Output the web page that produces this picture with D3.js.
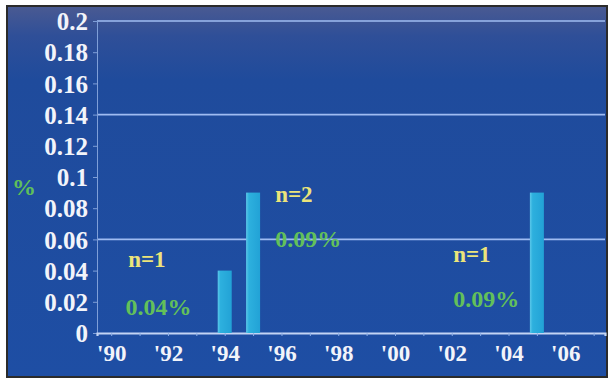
<!DOCTYPE html>
<html>
<head>
<meta charset="utf-8">
<script src="https://cdn.jsdelivr.net/npm/d3@7"></script>
<style>
  html, body { margin: 0; padding: 0; background: #fff; }
  svg { display: block; }
</style>
</head>
<body>
<svg id="chart" width="608" height="379"></svg>
<script>
// values
const years = [1994, 1995, 2005];
const rates = [0.04, 0.09, 0.09];           // %
const counts = ['n=1', 'n=2', 'n=1'];
const pctLabels = ['0.04%', '0.09%', '0.09%'];
const yTicks = [0, 0.02, 0.04, 0.06, 0.08, 0.1, 0.12, 0.14, 0.16, 0.18, 0.2];
const yTickLabels = ['0', '0.02', '0.04', '0.06', '0.08', '0.1', '0.12', '0.14', '0.16', '0.18', '0.2'];
const gridValues = [0.06, 0.14, 0.2];
const xTickYears = [1990, 1992, 1994, 1996, 1998, 2000, 2002, 2004, 2006];
const xTickLabels = ["'90", "'92", "'94", "'96", "'98", "'00", "'02", "'04", "'06"];

const svg = d3.select('#chart');
const fontFamily = '"Liberation Serif", "Times New Roman", serif';

const plot = { left: 97, right: 605, top: 21, bottom: 333 };

const x = d3.scaleLinear().domain([1989.5, 2007.4]).range([plot.left, plot.right]);
const y = d3.scaleLinear().domain([0, 0.2]).range([plot.bottom, plot.top]);

// background panel
const defs = svg.append('defs');
const bg = defs.append('linearGradient').attr('id', 'bg').attr('x1', 0).attr('y1', 0).attr('x2', 0).attr('y2', 1);
bg.append('stop').attr('offset', '0%').attr('stop-color', '#4a5a92');
bg.append('stop').attr('offset', '8%').attr('stop-color', '#2f4f98');
bg.append('stop').attr('offset', '20%').attr('stop-color', '#1f4b9c');
bg.append('stop').attr('offset', '100%').attr('stop-color', '#1e4ea4');

const barGrad = defs.append('linearGradient').attr('id', 'bar').attr('x1', 0).attr('y1', 0).attr('x2', 1).attr('y2', 0);
barGrad.append('stop').attr('offset', '0%').attr('stop-color', '#5cc8ea');
barGrad.append('stop').attr('offset', '20%').attr('stop-color', '#2db0de');
barGrad.append('stop').attr('offset', '100%').attr('stop-color', '#22a2d6');

svg.append('rect')
  .attr('x', 7).attr('y', 6).attr('width', 600).attr('height', 371)
  .attr('fill', 'url(#bg)')
  .attr('stroke', '#2b2b2b').attr('stroke-width', 2);

// horizontal grid lines
svg.append('g').selectAll('line')
  .data(gridValues)
  .join('line')
  .attr('x1', plot.left).attr('x2', plot.right)
  .attr('y1', d => y(d)).attr('y2', d => y(d))
  .attr('stroke', '#9fbcf2').attr('stroke-width', 1.6);

// y axis
const yAxis = d3.axisLeft(y)
  .tickValues(yTicks)
  .tickFormat((d, i) => yTickLabels[i])
  .tickSize(4)
  .tickPadding(5);

const yG = svg.append('g')
  .attr('transform', `translate(${plot.left},0)`)
  .call(yAxis);
yG.select('.domain').attr('stroke', '#7f9fd8').attr('stroke-width', 1);
yG.selectAll('.tick line').attr('stroke', '#7f9fd8');
yG.selectAll('.tick text')
  .attr('fill', '#f2f4fa')
  .attr('font-family', fontFamily)
  .attr('font-weight', 'bold')
  .attr('font-size', 25)
  .attr('dy', '0.35em');

// x axis
const xAxis = d3.axisBottom(x)
  .tickValues(d3.range(1990, 2008))
  .tickFormat(d => {
    const i = xTickYears.indexOf(d);
    return i >= 0 ? xTickLabels[i] : '';
  })
  .tickSize(3)
  .tickPadding(8);

const xG = svg.append('g')
  .attr('transform', `translate(0,${plot.bottom})`)
  .call(xAxis);
xG.select('.domain').attr('stroke', '#c3d4f4').attr('stroke-width', 2.2);
xG.selectAll('.tick line').attr('stroke', '#8fb0e8');
xG.selectAll('.tick text')
  .attr('fill', '#f2f4fa')
  .attr('font-family', fontFamily)
  .attr('font-weight', 'bold')
  .attr('font-size', 23)
  .attr('dy', '0.72em');

// y axis title
svg.append('text')
  .attr('x', 12).attr('y', 195)
  .attr('fill', '#5fbf5a')
  .attr('font-family', fontFamily)
  .attr('font-weight', 'bold')
  .attr('font-size', 24)
  .text('%');

// bars
const barW = 14;
svg.append('g').selectAll('rect')
  .data(years.map((yr, i) => ({ yr, v: rates[i] })))
  .join('rect')
  .attr('x', d => x(d.yr) - barW / 2)
  .attr('y', d => y(d.v))
  .attr('width', barW)
  .attr('height', d => y(0) - y(d.v))
  .attr('fill', 'url(#bar)');

// annotations (anchored in data units: year of left edge, value of baseline)
const countAnchors = [[1990.6, 0.0423], [1995.78, 0.084], [2002.05, 0.0455]];
const pctAnchors = [[1990.5, 0.0115], [1995.78, 0.0551], [2002.05, 0.0167]];

svg.append('g').selectAll('text')
  .data(counts)
  .join('text')
  .attr('x', (d, i) => x(countAnchors[i][0]))
  .attr('y', (d, i) => y(countAnchors[i][1]))
  .attr('fill', '#ece47a')
  .attr('font-family', fontFamily)
  .attr('font-weight', 'bold')
  .attr('font-size', 23)
  .text(d => d);

svg.append('g').selectAll('text')
  .data(pctLabels)
  .join('text')
  .attr('x', (d, i) => x(pctAnchors[i][0]))
  .attr('y', (d, i) => y(pctAnchors[i][1]))
  .attr('fill', '#63c05a')
  .attr('font-family', fontFamily)
  .attr('font-weight', 'bold')
  .attr('font-size', 24)
  .text(d => d);
</script>
</body>
</html>
